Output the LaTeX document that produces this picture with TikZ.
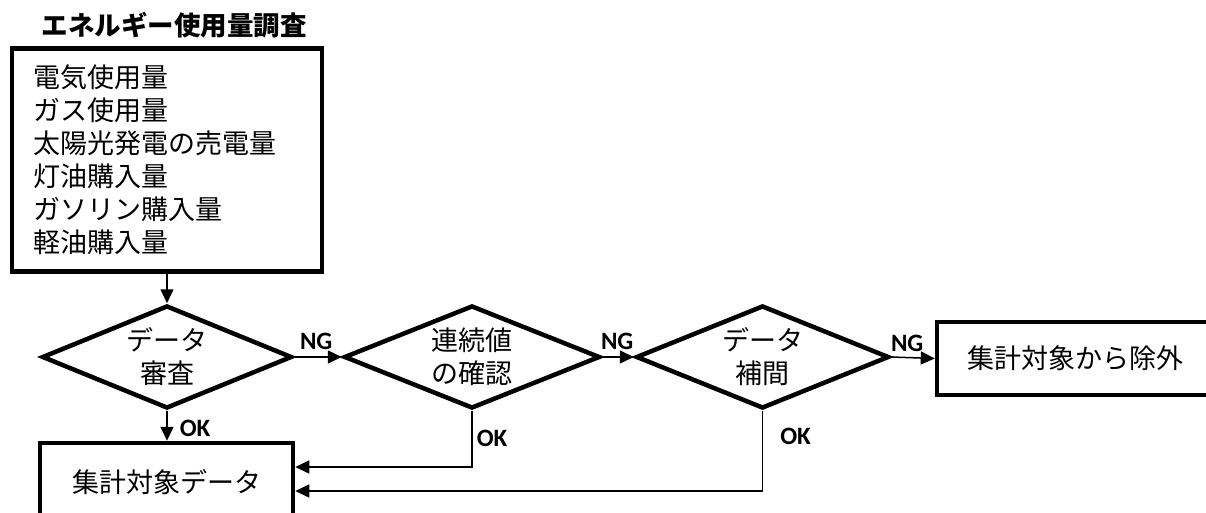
\documentclass[tikz,border=0pt]{standalone}
\usepackage{fontspec}
\usetikzlibrary{shapes.geometric,arrows.meta,calc}
\newfontfamily\jpfont{Noto Sans CJK JP}
\newfontfamily\latfont{Carlito}
\tikzset{
  jptext/.style={font=\jpfont\fontsize{27}{33}\selectfont},
  boxnode/.style={draw, line width=4.5pt, jptext, inner sep=0pt},
  decision/.style={draw, diamond, line width=4.5pt, jptext, align=center, inner sep=0pt,
    minimum width=250pt, minimum height=103pt, aspect=2.43},
  conn/.style={line width=1.5pt, -{Triangle[length=14pt,width=13pt]}},
  lab/.style={font=\latfont\bfseries\fontsize{25}{28}\selectfont, inner sep=0pt}
}
\begin{document}
\begin{tikzpicture}[x=1pt,y=-1pt]
\useasboundingbox (0,0) rectangle (1206,513);
\clip (0,0) rectangle (1206,513);
% title
\node[font=\jpfont\bfseries\fontsize{26.5}{33}\selectfont, inner sep=0pt] (title) at (174,25) {エネルギー使用量調査};
% survey box
\node[boxnode, minimum width=310pt, minimum height=223pt, text width=268pt, inner xsep=21pt, align=left] (src) at (167,160)
  {電気使用量\\ガス使用量\\太陽光発電の売電量\\灯油購入量\\ガソリン購入量\\軽油購入量};
% decisions
\node[decision] (d1) at (167,357) {データ\\審査};
\node[decision, minimum width=256pt, aspect=2.49] (d2) at (472,357) {連続値\\の確認};
\node[decision, minimum width=253pt, aspect=2.46] (d3) at (762.5,357) {データ\\補間};
% result boxes
\node[boxnode, minimum width=253pt, minimum height=78pt] (agg) at (166.5,482) {集計対象データ};
\node[boxnode, minimum width=276pt, minimum height=73pt] (excl) at (1075,358.5) {集計対象から除外};
% connectors
\draw[conn] (src.south) -- (d1.north);
\draw[conn] (d1.east) -- node[lab, pos=0, anchor=base west, xshift=5pt, yshift=8pt] {NG} (d2.west);
\draw[conn] (d2.east) -- node[lab, pos=0, anchor=base west, xshift=-2pt, yshift=8pt] {NG} (d3.west);
\draw[conn] (d3.east) -- node[lab, pos=0, anchor=base west, xshift=-1pt, yshift=6pt] {NG} (excl.west);
\draw[conn] (d1.south) -- node[lab, pos=0.6, anchor=west, xshift=12pt] {OK} (d1.south |- agg.north);
\coordinate (in1) at ($(agg.east)+(0,-15)$);
\coordinate (in2) at ($(agg.east)+(0,9)$);
\draw[conn] (d2.south) |- node[lab, pos=0.25, anchor=west, xshift=4pt] {OK} (in1);
\draw[conn] (d3.south) |- node[lab, pos=0.16, anchor=west, xshift=17pt] {OK} (in2);
\end{tikzpicture}
\end{document}
